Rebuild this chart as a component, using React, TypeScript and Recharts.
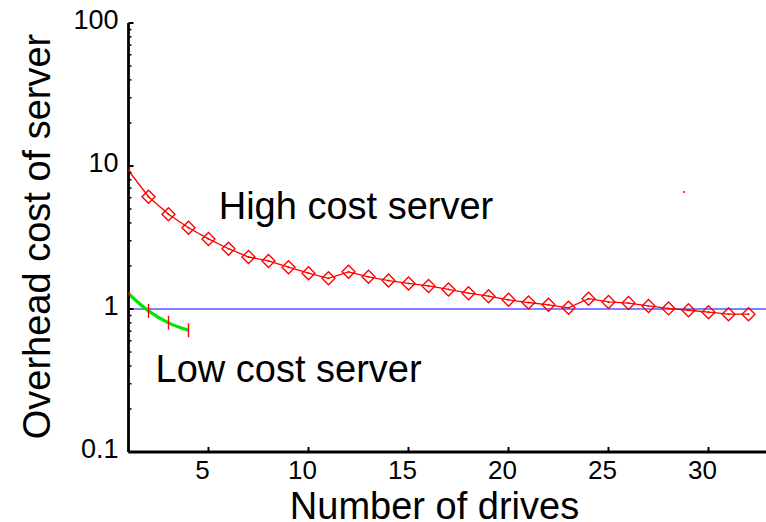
import React from "react";
import {
  LineChart,
  Line,
  XAxis,
  YAxis,
  ReferenceLine,
  ReferenceDot,
} from "recharts";

// Number of drives on the x axis
const drives = [
  1, 2, 3, 4, 5, 6, 7, 8, 9, 10, 11, 12, 13, 14, 15, 16, 17, 18, 19, 20, 21,
  22, 23, 24, 25, 26, 27, 28, 29, 30, 31, 32,
];

// Overhead cost
const highCostServer = [
  9.3, 6.1, 4.6, 3.7, 3.09, 2.64, 2.31, 2.17, 1.96, 1.78, 1.64, 1.82, 1.68,
  1.58, 1.51, 1.45, 1.37, 1.29, 1.23, 1.16, 1.11, 1.07, 1.02, 1.18, 1.12, 1.1,
  1.05, 1.01, 0.98, 0.95, 0.92, 0.92,
];
const lowCostServer = [1.28, 0.97, 0.8, 0.71];

const xTicks = [5, 10, 15, 20, 25, 30];
const yTicks = [0.1, 1, 10, 100];
const yMinorTicks = [
  0.2, 0.3, 0.4, 0.5, 0.6, 0.7, 0.8, 0.9, 2, 3, 4, 5, 6, 7, 8, 9, 20, 30, 40,
  50, 60, 70, 80, 90,
];
const yAllTicks = [...yTicks, ...yMinorTicks].sort((a, b) => a - b);

const data = drives.map((d, i) => ({
  drives: d,
  high: highCostServer[i],
  low: lowCostServer[i],
}));

const FONT = "'Liberation Sans', Arial, Helvetica, sans-serif";
const RED = "#ff0000";

const fmtY = (v: number) => (v < 1 ? v.toFixed(1) : String(v));

function LeftTick({ x, y, payload }: any) {
  const major = yTicks.includes(payload.value);
  return (
    <g>
      <line
        x1={x}
        x2={x + (major ? 5 : 3)}
        y1={y}
        y2={y}
        stroke="#000"
        strokeWidth={major ? 2 : 1.5}
      />
      {major && (
        <text
          x={x - 10}
          y={y + 6}
          textAnchor="end"
          fontFamily={FONT}
          fontSize={27}
          fill="#000"
        >
          {fmtY(payload.value)}
        </text>
      )}
    </g>
  );
}

function RightTick({ x, y }: any) {
  return <line x1={x} x2={x - 5} y1={y} y2={y} stroke="#000" strokeWidth={2} />;
}

function BottomTick({ x, y, payload }: any) {
  return (
    <g>
      <line x1={x} x2={x} y1={y} y2={y - 5} stroke="#000" strokeWidth={2} />
      <text
        x={x - 6}
        y={y + 27.3}
        textAnchor="middle"
        fontFamily={FONT}
        fontSize={26}
        fill="#000"
      >
        {payload.value}
      </text>
    </g>
  );
}

function TopTick({ x, y }: any) {
  return <line x1={x} x2={x} y1={y} y2={y + 5} stroke="#000" strokeWidth={2} />;
}

function Diamond({ cx, cy, index }: any) {
  if (cx == null || cy == null) return <g key={`h-${index}`} />;
  if (index === 0) {
    return <circle key={`h-${index}`} cx={cx} cy={cy} r={2} fill={RED} />;
  }
  const s = 6.5;
  return (
    <g key={`h-${index}`}>
      <path
        d={`M${cx},${cy - s}L${cx + s},${cy}L${cx},${cy + s}L${cx - s},${cy}Z`}
        fill="none"
        stroke={RED}
        strokeWidth={1.4}
      />
      <circle cx={cx} cy={cy} r={1} fill={RED} />
    </g>
  );
}

function Bar({ cx, cy, index }: any) {
  if (cx == null || cy == null) return <g key={`l-${index}`} />;
  if (index === 0) {
    return <circle key={`l-${index}`} cx={cx} cy={cy} r={2} fill={RED} />;
  }
  return (
    <line
      key={`l-${index}`}
      x1={cx}
      x2={cx}
      y1={cy - 7}
      y2={cy + 7}
      stroke={RED}
      strokeWidth={1.4}
    />
  );
}

const axisLine = { stroke: "#000", strokeWidth: 2.8 };

export default function App() {
  return (
    <div
      style={{
        position: "absolute",
        left: 0,
        top: 0,
        width: 766,
        height: 522,
        overflow: "hidden",
        background: "#fff",
      }}
    >
      <LineChart
        width={800}
        height={522}
        data={data}
        margin={{ top: 23, right: 31.5, bottom: 0, left: 0 }}
      >
        <XAxis
          dataKey="drives"
          type="number"
          domain={[1, 33]}
          ticks={xTicks}
          interval={0}
          allowDataOverflow
          height={70}
          tickSize={0}
          tickMargin={0}
          tickLine={false}
          axisLine={axisLine}
          tick={(p: any) => <BottomTick {...p} />}
          label={(props: any) => {
            const vb = props.viewBox || { x: 128.5, y: 452, width: 640 };
            return (
              <text
                x={vb.x + vb.width / 2 - 14}
                y={vb.y + 66.5}
                textAnchor="middle"
                fontFamily={FONT}
                fontSize={38}
                fill="#000"
              >
                Number of drives
              </text>
            );
          }}
        />
        <XAxis
          xAxisId="top"
          orientation="top"
          dataKey="drives"
          type="number"
          domain={[1, 33]}
          ticks={xTicks}
          interval={0}
          allowDataOverflow
          height={0}
          tickSize={0}
          tickMargin={0}
          tickLine={false}
          axisLine={axisLine}
          tick={(p: any) => <TopTick {...p} />}
        />
        <YAxis
          scale="log"
          type="number"
          domain={[0.1, 100]}
          ticks={yAllTicks}
          interval={0}
          allowDataOverflow
          width={128.5}
          tickSize={0}
          tickMargin={0}
          tickLine={false}
          axisLine={axisLine}
          tick={(p: any) => <LeftTick {...p} />}
          label={(props: any) => {
            const vb = props.viewBox || { x: 0, y: 23, width: 128.5, height: 429 };
            const cx = 49.5;
            const cy = vb.y + vb.height / 2 - 1;
            return (
              <text
                x={cx}
                y={cy}
                transform={`rotate(-90 ${cx} ${cy})`}
                textAnchor="middle"
                fontFamily={FONT}
                fontSize={38}
                fill="#000"
              >
                Overhead cost of server
              </text>
            );
          }}
        />
        <YAxis
          yAxisId="right"
          orientation="right"
          scale="log"
          type="number"
          domain={[0.1, 100]}
          ticks={yTicks}
          interval={0}
          allowDataOverflow
          width={0}
          tickSize={0}
          tickMargin={0}
          tickLine={false}
          axisLine={axisLine}
          tick={(p: any) => <RightTick {...p} />}
        />
        <ReferenceLine y={1} stroke="#0000ff" strokeWidth={1.2} />
        <Line
          dataKey="high"
          type="linear"
          stroke={RED}
          strokeWidth={1.3}
          dot={(p: any) => <Diamond key={`h-${p.index}`} {...p} />}
          activeDot={false}
          isAnimationActive={false}
        />
        <Line
          dataKey="low"
          type="monotone"
          stroke="#00e600"
          strokeWidth={3.2}
          dot={false}
          activeDot={false}
          isAnimationActive={false}
        />
        <Line
          dataKey="low"
          type="linear"
          stroke="none"
          dot={(p: any) => <Bar key={`l-${p.index}`} {...p} />}
          activeDot={false}
          isAnimationActive={false}
        />
        <ReferenceDot
          x={5.51}
          y={4.24}
          r={0}
          shape={(p: any) => (
            <text
              x={p.cx}
              y={p.cy}
              fontFamily={FONT}
              fontSize={38}
              fill="#000"
            >
              High cost server
            </text>
          )}
        />
        <ReferenceDot
          x={2.35}
          y={0.31}
          r={0}
          shape={(p: any) => (
            <text
              x={p.cx}
              y={p.cy}
              fontFamily={FONT}
              fontSize={38}
              fill="#000"
            >
              Low cost server
            </text>
          )}
        />
        <ReferenceDot x={28.78} y={6.58} r={1} fill={RED} stroke="none" />
      </LineChart>
    </div>
  );
}
